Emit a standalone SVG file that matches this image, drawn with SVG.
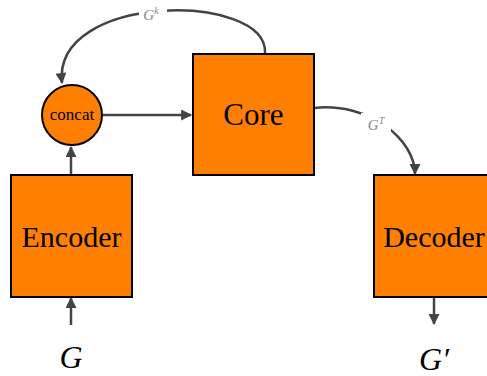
<svg xmlns="http://www.w3.org/2000/svg" width="487" height="376" viewBox="0 0 487 376">
<style>
.box{fill:#FF8000;stroke:#000;stroke-width:2}
.lbl{font-family:"Liberation Serif",serif;fill:#000;text-anchor:middle}
.edge{fill:none;stroke:#444;stroke-width:2.5}
.math{font-family:"Liberation Serif",serif;font-style:italic;text-anchor:middle}
.elbl{font-family:"Liberation Serif",serif;font-style:italic;fill:#888;text-anchor:middle;font-size:15px}
</style>
<defs>
<marker id="ah" viewBox="0 0 10 10" refX="9" refY="5" markerWidth="5" markerHeight="4.4" orient="auto" markerUnits="strokeWidth">
<path d="M0,0 L10,5 L0,10 Z" fill="#444"/>
</marker>
</defs>
<g id="connectors">
<path class="edge" d="M71,175 L71,147" marker-end="url(#ah)"/>
<path class="edge" d="M71,325 L71,298" marker-end="url(#ah)"/>
<path class="edge" d="M103,115 L191,115" marker-end="url(#ah)"/>
<path class="edge" d="M434,297 L434,324" marker-end="url(#ah)"/>
<path class="edge" d="M265,53 C268,-8 52,-8 62,83" marker-end="url(#ah)"/>
<rect x="139" y="2" width="28" height="19" fill="#fff"/>
<text class="elbl" x="151" y="20">G<tspan font-size="10" dy="-6">k</tspan></text>
<path class="edge" d="M314,108 C370,102 415,140 415,174" marker-end="url(#ah)"/>
<rect x="361" y="113" width="30" height="19" fill="#fff"/>
<text class="elbl" x="376" y="130">G<tspan font-size="10" dy="-6">T</tspan></text>
</g>
<g id="concat">
<circle class="box" cx="72" cy="115" r="30"/>
<text class="lbl" x="72" y="120" font-size="17">concat</text>
</g>
<g id="core">
<rect class="box" x="193" y="54" width="121" height="121"/>
<text class="lbl" x="253.5" y="125" font-size="31">Core</text>
</g>
<g id="encoder">
<rect class="box" x="11" y="175" width="121" height="122"/>
<text class="lbl" x="71.5" y="247" font-size="30">Encoder</text>
</g>
<g id="decoder">
<rect class="box" x="374" y="175" width="122" height="122"/>
<text class="lbl" x="434" y="247" font-size="30">Decoder</text>
</g>
<g id="G">
<text class="math" x="71" y="368" font-size="32">G</text>
</g>
<g id="Gprime">
<text class="math" x="434" y="370" font-size="32">G′</text>
</g>
</svg>
